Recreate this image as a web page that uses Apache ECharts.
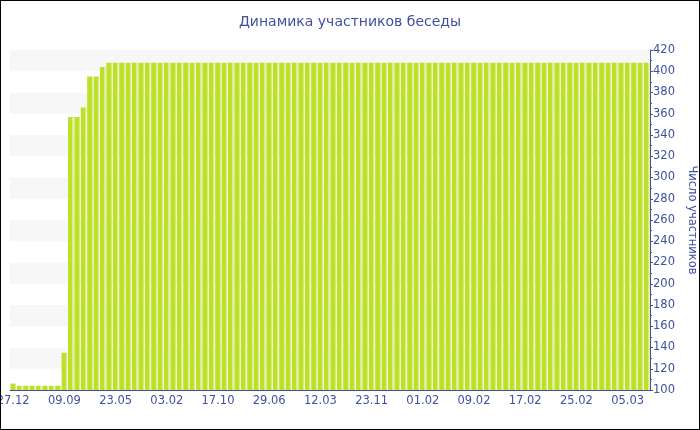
<!DOCTYPE html>
<html>
<head>
<meta charset="utf-8">
<script src="https://cdn.jsdelivr.net/npm/echarts@6/dist/echarts.min.js"></script>
<style>
  html, body { margin: 0; padding: 0; background: #fff; }
  #chart {
    width: 700px;
    height: 430px;
    box-sizing: border-box;
    border: 1px solid #000;
  }
</style>
</head>
<body>
<div id="chart"></div>
<script>
// dates (every 8th one is shown on the axis)
const dates = [
  "27.12", "28.01", "01.03", "02.04", "04.05", "05.06", "07.07", "08.08",
  "09.09", "11.10", "12.11", "14.12", "15.01", "16.02", "20.03", "21.04",
  "23.05", "24.06", "26.07", "27.08", "28.09", "30.10", "01.12", "02.01",
  "03.02", "07.03", "08.04", "10.05", "11.06", "13.07", "14.08", "15.09",
  "17.10", "18.11", "20.12", "21.01", "22.02", "25.03", "26.04", "28.05",
  "29.06", "31.07", "01.09", "03.10", "04.11", "06.12", "07.01", "08.02",
  "12.03", "13.04", "15.05", "16.06", "18.07", "19.08", "20.09", "22.10",
  "23.11", "02.12", "11.12", "20.12", "29.12", "06.01", "15.01", "23.01",
  "01.02", "02.02", "03.02", "04.02", "05.02", "06.02", "07.02", "08.02",
  "09.02", "10.02", "11.02", "12.02", "13.02", "14.02", "15.02", "16.02",
  "17.02", "18.02", "19.02", "20.02", "21.02", "22.02", "23.02", "24.02",
  "25.02", "26.02", "27.02", "28.02", "01.03", "02.03", "03.03", "04.03",
  "05.03", "06.03", "07.03", "08.03"
];

// participants count per date
const members = [
  106, 104, 104, 104, 104, 104, 104, 104,
  135, 357, 357, 366, 395, 395, 404, 408,
  408, 408, 408, 408, 408, 408, 408, 408,
  408, 408, 408, 408, 408, 408, 408, 408,
  408, 408, 408, 408, 408, 408, 408, 408,
  408, 408, 408, 408, 408, 408, 408, 408,
  408, 408, 408, 408, 408, 408, 408, 408,
  408, 408, 408, 408, 408, 408, 408, 408,
  408, 408, 408, 408, 408, 408, 408, 408,
  408, 408, 408, 408, 408, 408, 408, 408,
  408, 408, 408, 408, 408, 408, 408, 408,
  408, 408, 408, 408, 408, 408, 408, 408,
  408, 408, 408, 408
];

const yMin = 100;
const yMax = 420;
const yStep = 20;

const blue = "#3f51a0";
const font = "DejaVu Sans";

let chartDom = document.getElementById("chart");
let myChart = echarts.init(chartDom);

let chartOption = {
  animation: false,
  title: {
    text: "Динамика участников беседы",
    left: "center",
    top: 9,
    textStyle: {
      color: blue,
      fontFamily: font,
      fontSize: 14,
      fontWeight: "normal",
    },
  },
  grid: {
    left: 9,
    right: 49,
    top: 49,
    bottom: 39,
    containLabel: false,
    outerBoundsMode: "none",
  },
  xAxis: {
    type: "category",
    data: dates,
    axisLine: { lineStyle: { color: blue, width: 1 } },
    axisTick: {
      alignWithLabel: true,
      interval: 7,
      length: 3,
      lineStyle: { color: blue },
    },
    axisLabel: {
      interval: 7,
      color: blue,
      fontFamily: font,
      fontSize: 11.5,
      margin: 5,
    },
    splitLine: { show: false },
  },
  yAxis: {
    type: "value",
    position: "right",
    min: yMin,
    max: yMax,
    interval: yStep,
    name: "Число участников",
    nameLocation: "middle",
    nameRotate: -90,
    nameGap: 35,
    nameTextStyle: {
      color: blue,
      fontFamily: font,
      fontSize: 11.5,
    },
    axisLine: { show: true, lineStyle: { color: blue, width: 1 } },
    axisTick: { show: true, length: 3, lineStyle: { color: blue } },
    minorTick: { show: true, splitNumber: 2, length: 2, lineStyle: { color: blue } },
    axisLabel: {
      color: blue,
      fontFamily: font,
      fontSize: 11.5,
      margin: 3,
    },
    splitLine: { show: false },
    splitArea: {
      show: true,
      areaStyle: { color: ["#ffffff", "#f7f7f7"] },
    },
  },
  series: [
    {
      name: "Число участников",
      type: "bar",
      data: members,
      barCategoryGap: "12%",
      itemStyle: {
        color: new echarts.graphic.LinearGradient(0, 0, 1, 0, [
          { offset: 0, color: "#bde02a" },
          { offset: 0.78, color: "#bde02a" },
          { offset: 0.78, color: "#d6ec86" },
          { offset: 1, color: "#d6ec86" },
        ]),
      },
    },
  ],
};

myChart.setOption(chartOption);
</script>
</body>
</html>
